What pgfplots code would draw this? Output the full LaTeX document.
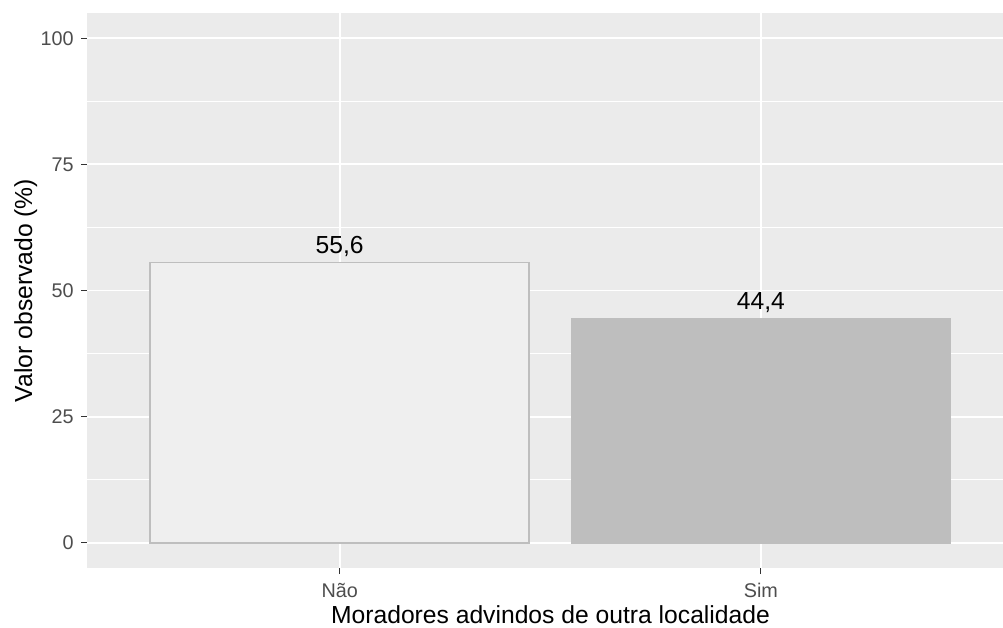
\documentclass[border=0pt]{standalone}
\usepackage{pgfplots}
\pgfplotsset{compat=1.18}
\usepackage{fontspec}
\setmainfont{Liberation Sans}
\definecolor{panel}{RGB}{235,235,235}
\definecolor{barlight}{RGB}{239,239,239}
\definecolor{bardark}{RGB}{190,190,190}
\definecolor{tickgray}{RGB}{77,77,77}
\definecolor{tickmark}{RGB}{51,51,51}
\begin{document}
\begin{tikzpicture}
\useasboundingbox (0,0) rectangle (752.25pt,471pt);
\begin{axis}[
  at={(65.25pt,45pt)}, anchor=south west,
  scale only axis, width=687pt, height=416.25pt,
  xmin=0.4, xmax=2.575, ymin=-5, ymax=105,
  xtick={1,2}, xticklabels={Não,Sim},
  ytick={0,25,50,75,100},
  minor ytick={12.5,37.5,62.5,87.5},
  /pgf/number format/assume math mode=true,
  axis background/.style={fill=panel},
  axis line style={draw=none},
  tick align=outside, tick pos=left,
  major tick length=4.5pt, minor tick length=0pt,
  tick style={draw=tickmark, line width=0.8pt},
  grid=both,
  major grid style={draw=white, line width=1.4pt},
  minor grid style={draw=white, line width=0.7pt},
  ticklabel style={font=\fontsize{14.85}{16}\selectfont, text=tickgray, inner sep=0pt},
  yticklabel style={xshift=-5.25pt},
  xticklabel style={anchor=base, yshift=-17.6pt},
  xlabel={Moradores advindos de outra localidade},
  ylabel={Valor observado (\%)},
  label style={font=\fontsize{18.5}{20}\selectfont, text=black, inner sep=0pt},
  xlabel style={at={(axis description cs:0.506,-0.1005)}, anchor=base},
  ylabel style={at={(axis description cs:-0.06004,0.5)}, anchor=base},
  nodes near coords={\pgfmathprintnumber[fixed,fixed zerofill,precision=1,use comma]{\pgfplotspointmeta}},
  nodes near coords style={anchor=base, yshift=6.75pt, font=\fontsize{18.5}{20}\selectfont, text=black, inner sep=0pt},
]
\addplot[ybar, bar width=0.9, fill=barlight, draw=bardark, line width=1.1pt] coordinates {(1,55.6)};
\addplot[ybar, bar width=0.9, fill=bardark, draw=bardark, line width=1.1pt] coordinates {(2,44.4)};
\end{axis}
\end{tikzpicture}
\end{document}
